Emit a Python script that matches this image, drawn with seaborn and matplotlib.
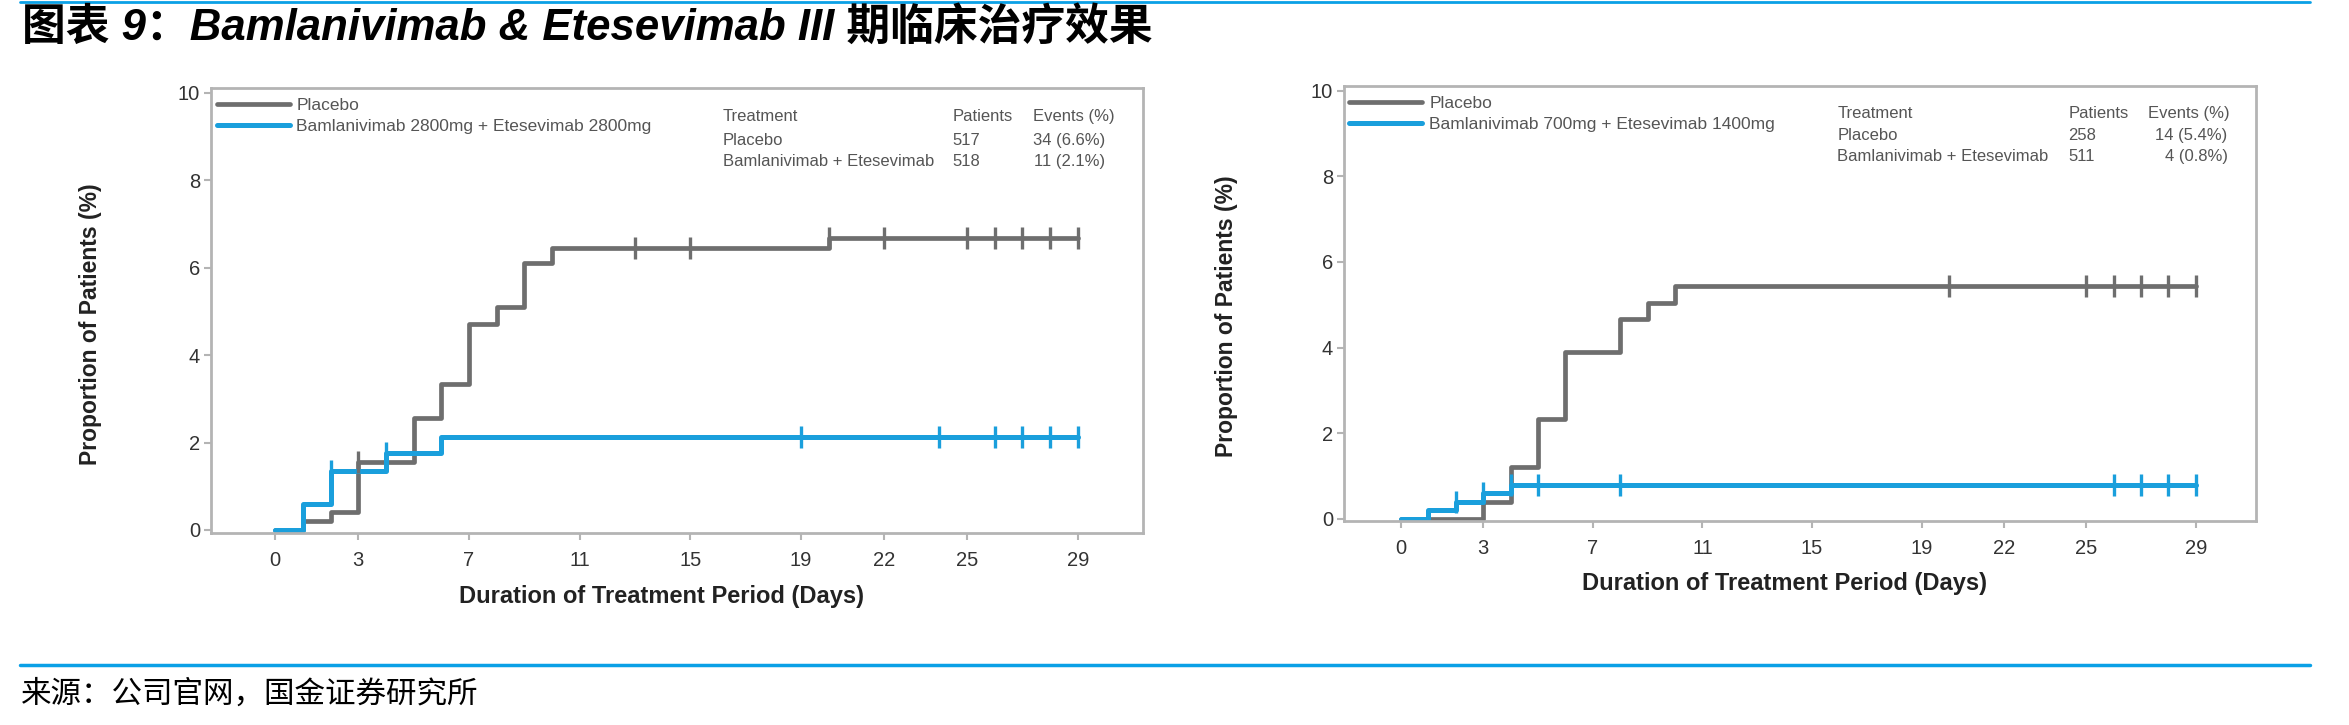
import numpy as np
import pandas as pd
import matplotlib
matplotlib.use('Agg')
import matplotlib.pyplot as plt
import seaborn as sns

# ---- data ----
x_ticks = [0, 3, 7, 11, 15, 19, 22, 25, 29]
y_ticks = [0, 2, 4, 6, 8, 10]

# left panel: Bamlanivimab 2800mg + Etesevimab 2800mg
left_placebo_day = [0, 1, 2, 3, 5, 6, 7, 8, 9, 10, 20, 29]
left_placebo_pct = [0, 0.2, 0.4, 1.55, 2.55, 3.35, 4.72, 5.1, 6.1, 6.45, 6.67, 6.67]
left_placebo_cens = [3, 13, 15, 20, 22, 25, 26, 27, 28, 29]
left_combo_day = [0, 1, 2, 4, 6, 29]
left_combo_pct = [0, 0.6, 1.35, 1.75, 2.12, 2.12]
left_combo_cens = [2, 4, 19, 24, 26, 27, 28, 29]
left_combo_label = 'Bamlanivimab 2800mg + Etesevimab 2800mg'
left_rows = [('Placebo', '517', '34 (6.6%)'),
             ('Bamlanivimab + Etesevimab', '518', '11 (2.1%)')]

# right panel: Bamlanivimab 700mg + Etesevimab 1400mg
right_placebo_day = [0, 3, 4, 5, 6, 8, 9, 10, 29]
right_placebo_pct = [0, 0.39, 1.2, 2.33, 3.9, 4.67, 5.05, 5.43, 5.43]
right_placebo_cens = [20, 25, 26, 27, 28, 29]
right_combo_day = [0, 1, 2, 3, 4, 29]
right_combo_pct = [0, 0.2, 0.4, 0.6, 0.8, 0.8]
right_combo_cens = [2, 3, 4, 5, 8, 26, 27, 28, 29]
right_combo_label = 'Bamlanivimab 700mg + Etesevimab 1400mg'
right_rows = [('Placebo', '258', '14 (5.4%)'),
              ('Bamlanivimab + Etesevimab', '511', '4 (0.8%)')]

table_header = ['Treatment', 'Patients', 'Events (%)']

title = '图表 9：Bamlanivimab & Etesevimab III 期临床治疗效果'
source = '来源：公司官网，国金证券研究所'

GRAY = '#6e6e6e'
BLUE = '#1a9fdc'
FRAME = '#b4b4b4'
ACCENT = '#0aa0e6'

W, H = 2349, 725

sns.set_style('white')
plt.rcParams['font.family'] = ['Liberation Sans', 'DejaVu Sans']

fig = plt.figure(figsize=(W / 100, H / 100), dpi=100)


def px_axes(l, t, r, b):
    return fig.add_axes([l / W, 1 - b / H, (r - l) / W, (b - t) / H])


def step_value(days, pct, d):
    i = np.searchsorted(days, d, side='right') - 1
    return pct[i]


def panel(ax, arms, rows, xlim, ylim, tab_x, tab_y, leg_anchor):
    handles = []
    for name, days, pct, cens, color, lw in arms:
        df = pd.DataFrame({'day': days, 'pct': pct})
        sns.lineplot(data=df, x='day', y='pct', drawstyle='steps-post', color=color,
                     linewidth=lw, ax=ax, label=name, zorder=2)
        handles.append(ax.lines[-1])
        cy = [step_value(days, pct, d) for d in cens]
        sns.scatterplot(x=cens, y=cy, marker='|', s=230, linewidth=2.4, color=color,
                        ax=ax, zorder=3, legend=False)

    ax.set_xlim(*xlim)
    ax.set_ylim(*ylim)
    ax.set_xticks(x_ticks)
    ax.set_yticks(y_ticks)
    ax.tick_params(axis='both', which='both', direction='out', length=5, width=1.5,
                   color=FRAME, labelsize=14.5, labelcolor='#333333')
    ax.tick_params(axis='x', pad=8, bottom=True)
    ax.tick_params(axis='y', pad=3, left=True)
    for sp in ax.spines.values():
        sp.set_visible(True)
        sp.set_color(FRAME)
        sp.set_linewidth(2)

    ax.set_xlabel('Duration of Treatment Period (Days)', fontsize=17, fontweight='bold',
                  color='#222222')
    ax.xaxis.label.set_va('center')
    ax.xaxis.set_label_coords(0.483, -0.143)
    ax.set_ylabel('Proportion of Patients (%)', fontsize=16.5, fontweight='bold',
                  color='#222222')
    ax.yaxis.label.set_va('center')
    ax.yaxis.set_label_coords(-0.129, 0.47)

    ax.legend(handles=handles, labels=[a[0] for a in arms], loc='upper left',
              bbox_to_anchor=leg_anchor, frameon=False, fontsize=12.5, handlelength=4.2,
              handletextpad=0.4, labelspacing=0.35, borderpad=0, borderaxespad=0,
              labelcolor='#555555')

    # summary table in the upper right corner
    col_treat, col_n, col_ev, col_ev_right = tab_x
    for x, txt in zip((col_treat, col_n, col_ev), table_header):
        ax.text(x, tab_y[0], txt, transform=ax.transAxes, fontsize=12,
                color='#555555', va='center', ha='left')
    for i, (arm, n, ev) in enumerate(rows):
        y = tab_y[i + 1]
        ax.text(col_treat, y, arm, transform=ax.transAxes, fontsize=12, color='#555555', va='center')
        ax.text(col_n, y, n, transform=ax.transAxes, fontsize=12, color='#555555', va='center')
        ax.text(col_ev_right, y, ev, transform=ax.transAxes, fontsize=12, color='#555555',
                va='center', ha='right')


ax1 = px_axes(211, 88, 1143, 533)
panel(ax1,
      [('Placebo', left_placebo_day, left_placebo_pct, left_placebo_cens, GRAY, 3.4),
       (left_combo_label, left_combo_day, left_combo_pct, left_combo_cens, BLUE, 3.6)],
      left_rows, (-2.32, 31.36), (-0.07, 10.11),
      (0.549, 0.796, 0.882, 0.959), (0.9355, 0.883, 0.834), (0.006, 0.978))

ax2 = px_axes(1344, 86, 2256, 521)
panel(ax2,
      [('Placebo', right_placebo_day, right_placebo_pct, right_placebo_cens, GRAY, 3.4),
       (right_combo_label, right_combo_day, right_combo_pct, right_combo_cens, BLUE, 3.6)],
      right_rows, (-2.08, 31.2), (-0.05, 10.11),
      (0.541, 0.794, 0.882, 0.969), (0.937, 0.887, 0.839), (0.006, 0.978))

# header / footer decoration
fig.add_artist(plt.Line2D([20 / W, 2310 / W], [1 - 1.5 / H, 1 - 1.5 / H], color=ACCENT, lw=2))
fig.add_artist(plt.Line2D([20 / W, 2310 / W], [1 - 665 / H, 1 - 665 / H], color=ACCENT, lw=2.5))
fig.text(22 / W, 1 - 28 / H, title, fontsize=31.5, fontweight='bold', style='italic',
         family=['Liberation Sans', 'Noto Sans CJK SC'], va='center', ha='left', color='black')
fig.text(21 / W, 1 - 694 / H, source, fontsize=22, family=['Noto Sans CJK SC', 'DejaVu Sans'],
         va='center', ha='left', color='black')

fig.savefig('out.png', dpi=100)
